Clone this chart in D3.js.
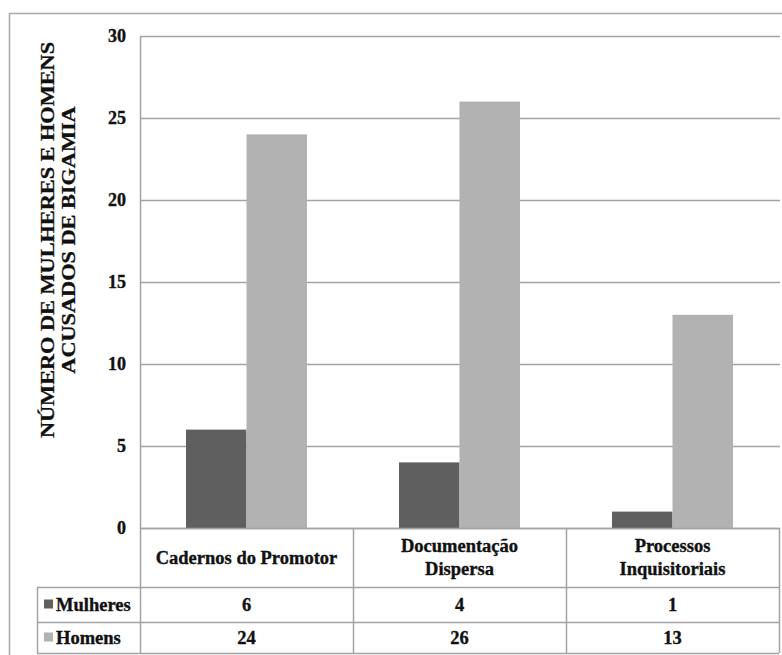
<!DOCTYPE html>
<html>
<head>
<meta charset="utf-8">
<script src="https://cdn.jsdelivr.net/npm/d3@7"></script>
<style>
  html, body { margin: 0; padding: 0; background: #fff; overflow: hidden; }
  svg text { font-family: "Liberation Serif", "Times New Roman", serif; font-weight: bold; fill: #111; stroke: #111; stroke-width: 0.35px; }
</style>
</head>
<body>
<svg id="chart" width="782" height="655"></svg>
<script>
const categories = [["Cadernos do Promotor"], ["Documentação", "Dispersa"], ["Processos", "Inquisitoriais"]];
const categoryKeys = ["Cadernos do Promotor", "Documentação Dispersa", "Processos Inquisitoriais"];
const seriesNames = ["Mulheres", "Homens"];
const mulheres = [6, 4, 1];
const homens = [24, 26, 13];
const yTicks = [0, 5, 10, 15, 20, 25, 30];
const yTitle = ["NÚMERO DE MULHERES E HOMENS", "ACUSADOS DE BIGAMIA"];
const colors = ["#5f5f5f", "#b2b2b2"];

const seriesValues = [mulheres, homens];
const svg = d3.select("#chart");
const plotLeft = 140, plotRight = 779, plotTop = 36, plotBottom = 528;
const tableLeft = 37;
const rowCatBottom = 587, rowMBottom = 622, rowHBottom = 653;
const gridColor = "#a3a3a3";

// outer frame
svg.append("rect").attr("x", 9.5).attr("y", 13.5).attr("width", 820).attr("height", 700)
  .attr("fill", "none").attr("stroke", "#a8a8a8").attr("stroke-width", 1.5);

const y = d3.scaleLinear().domain([0, 30]).range([plotBottom, plotTop]);
const x0 = d3.scaleBand().domain(categoryKeys).range([plotLeft, plotRight]).padding(0);
const x1 = d3.scaleBand().domain(seriesNames).range([0, x0.bandwidth()]).paddingInner(0).paddingOuter(0.76);

// gridlines
svg.append("g").selectAll("line").data(yTicks).join("line")
  .attr("x1", plotLeft).attr("x2", 780)
  .attr("y1", d => Math.round(y(d)) + 0.5).attr("y2", d => Math.round(y(d)) + 0.5)
  .attr("stroke", gridColor).attr("stroke-width", 1.5);

// y axis
const yAxis = d3.axisLeft(y).tickValues(yTicks).tickSize(0).tickPadding(14);
const gy = svg.append("g").attr("transform", `translate(${plotLeft},0)`).call(yAxis);
gy.select(".domain").attr("stroke", gridColor).attr("stroke-width", 1.5);
gy.selectAll("text").style("font-size", "18px").attr("fill", "#111")
  .attr("font-family", null).attr("dy", "0.32em");

// bars
const groups = svg.append("g").selectAll("g").data(categoryKeys).join("g")
  .attr("transform", d => `translate(${x0(d)},0)`);
groups.selectAll("rect").data((d, i) => seriesNames.map((s, j) => ({ s, v: seriesValues[j][i], j })))
  .join("rect")
  .attr("x", d => x1(d.s)).attr("width", x1.bandwidth())
  .attr("y", d => y(d.v)).attr("height", d => y(0) - y(d.v))
  .attr("fill", d => colors[d.j]);

// y title
const tg = svg.append("g").attr("transform", "translate(48,240) rotate(-90)");
tg.selectAll("text").data(yTitle).join("text")
  .attr("x", 0).attr("y", (d, i) => i * 26 + 7)
  .attr("text-anchor", "middle")
  .attr("transform", "scale(1,0.82)")
  .style("font-size", "22.3px")
  .text(d => d);

// table
const tbl = svg.append("g");
const line = (a, b, c, d) => tbl.append("line")
  .attr("x1", a).attr("y1", b).attr("x2", c).attr("y2", d)
  .attr("stroke", gridColor).attr("stroke-width", 1.5);
line(plotLeft, plotBottom + 0.5, plotRight, plotBottom + 0.5);
line(tableLeft, rowCatBottom + 0.5, plotRight, rowCatBottom + 0.5);
line(tableLeft, rowMBottom + 0.5, plotRight, rowMBottom + 0.5);
line(tableLeft, rowHBottom + 0.5, plotRight, rowHBottom + 0.5);
line(tableLeft + 0.5, rowCatBottom, tableLeft + 0.5, rowHBottom);
categoryKeys.forEach(k => line(x0(k) + 0.5, plotBottom, x0(k) + 0.5, rowHBottom));
line(plotRight + 0.5, plotBottom, plotRight + 0.5, rowHBottom);

// category labels
categoryKeys.forEach((k, i) => {
  const lines = categories[i];
  const cx = x0(k) + x0.bandwidth() / 2;
  const mid = (plotBottom + rowCatBottom) / 2;
  const lh = 23;
  lines.forEach((t, li) => {
    tbl.append("text").attr("x", cx)
      .attr("y", mid + (li - (lines.length - 1) / 2) * lh + 6)
      .attr("text-anchor", "middle").style("font-size", "18.5px").text(t);
  });
});

// series rows
const rowMids = [(rowCatBottom + rowMBottom) / 2, (rowMBottom + rowHBottom) / 2];
seriesNames.forEach((s, j) => {
  const cy = rowMids[j];
  tbl.append("rect").attr("x", 44).attr("y", cy - 5).attr("width", 9).attr("height", 9).attr("fill", colors[j]);
  tbl.append("text").attr("x", 56).attr("y", cy + 6).style("font-size", "18.5px").text(s);
  categoryKeys.forEach((k, i) => {
    tbl.append("text").attr("x", x0(k) + x0.bandwidth() / 2).attr("y", cy + 6)
      .attr("text-anchor", "middle").style("font-size", "18.5px").text(seriesValues[j][i]);
  });
});
</script>
</body>
</html>
